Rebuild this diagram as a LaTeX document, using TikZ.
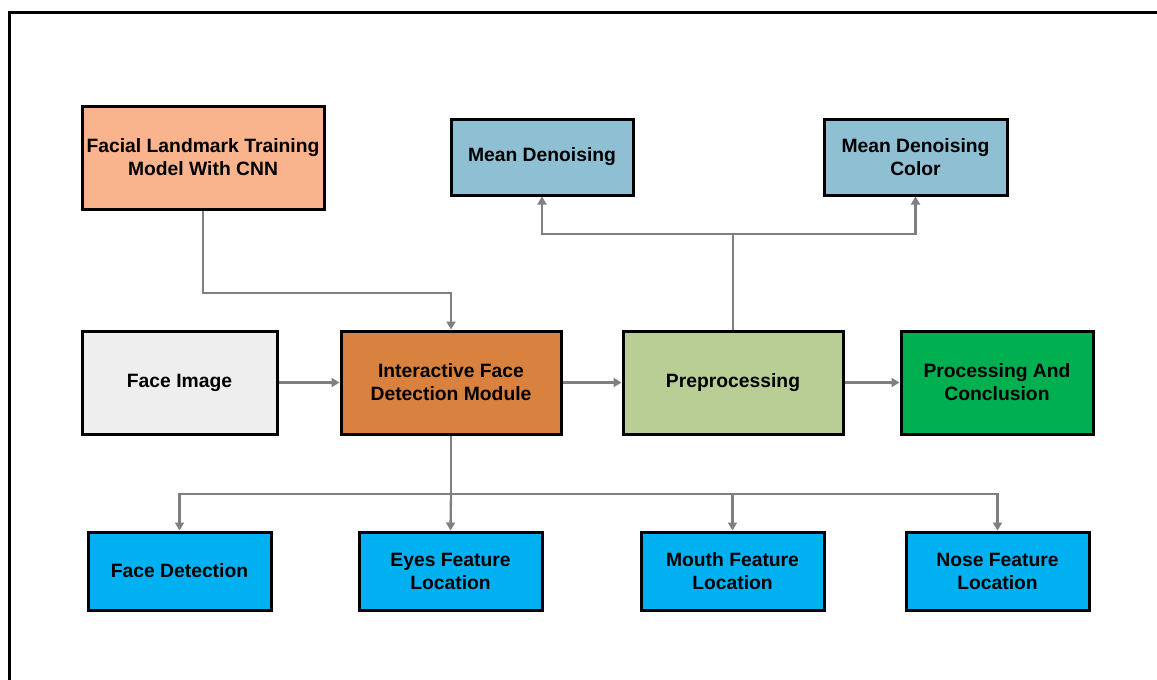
\documentclass[tikz,border=0pt]{standalone}
\usepackage{fontspec}
\setmainfont{Liberation Sans}
\usetikzlibrary{arrows.meta}
\definecolor{salmon}{HTML}{F9B48E}
\definecolor{steel}{HTML}{8FBFD3}
\definecolor{lightgrey}{HTML}{EEEEEE}
\definecolor{orangebox}{HTML}{D9823F}
\definecolor{olivebox}{HTML}{B8CE94}
\definecolor{greenbox}{HTML}{00B050}
\definecolor{cyanbox}{HTML}{00B0F0}
\definecolor{wire}{HTML}{7F7F7F}
\tikzset{
  blk/.style={draw=black, line width=3pt, align=center, inner sep=0pt,
    font=\fontsize{19.3}{23}\selectfont\bfseries},
  link/.style={draw=wire, line width=2.3pt, -{Triangle[width=9pt,length=8pt]}},
  plain/.style={draw=wire, line width=2.3pt},
}
\begin{document}
\begin{tikzpicture}[x=1pt,y=-1pt]
\useasboundingbox (0,0) rectangle (1157,680);
% outer frame
\draw[line width=3pt] (9,12) rectangle (1180,700);

% boxes
\node[blk, fill=salmon, minimum width=242pt, minimum height=103pt] (cnn) at (203,157.5)
  {Facial Landmark Training\\Model With CNN};
\node[blk, fill=steel, minimum width=182pt, minimum height=76pt] (md) at (542,157)
  {Mean Denoising};
\node[blk, fill=steel, minimum width=183pt, minimum height=76pt] (mdc) at (915.5,157)
  {Mean Denoising\\Color};
\node[blk, fill=lightgrey, minimum width=195pt, minimum height=103pt] (img) at (179.5,382.5)
  {Face Image};
\node[blk, fill=orangebox, minimum width=220pt, minimum height=103pt] (ifd) at (451,382.5)
  {Interactive Face\\Detection Module};
\node[blk, fill=olivebox, minimum width=220pt, minimum height=103pt] (pre) at (733,382.5)
  {Preprocessing};
\node[blk, fill=greenbox, minimum width=192pt, minimum height=103pt] (pac) at (997,382.5)
  {Processing And\\Conclusion};
\node[blk, fill=cyanbox, minimum width=183pt, minimum height=78pt] (fd) at (179.5,571)
  {Face Detection};
\node[blk, fill=cyanbox, minimum width=183pt, minimum height=78pt] (eyes) at (450.5,571)
  {Eyes Feature\\Location};
\node[blk, fill=cyanbox, minimum width=183pt, minimum height=78pt] (mouth) at (732.5,571)
  {Mouth Feature\\Location};
\node[blk, fill=cyanbox, minimum width=183pt, minimum height=78pt] (nose) at (997.5,571)
  {Nose Feature\\Location};

% connectors
\coordinate (bus) at (451,494);
\coordinate (top) at (733,234);
\draw[link] (cnn.south) |- (ifd.north |- 0,293) -- (ifd.north);
\draw[link] (img) -- (ifd);
\draw[link] (ifd) -- (pre);
\draw[link] (pre) -- (pac);
\draw[plain] (pre.north) -- (top);
\draw[link] (top) -| (md.south);
\draw[link] (top) -| (mdc.south);
\draw[plain] (ifd.south) -- (bus);
\draw[link] (bus) -| (fd.north);
\draw[link] (bus) -- (eyes.north);
\draw[link] (bus) -| (mouth.north);
\draw[link] (bus) -| (nose.north);
\end{tikzpicture}
\end{document}
